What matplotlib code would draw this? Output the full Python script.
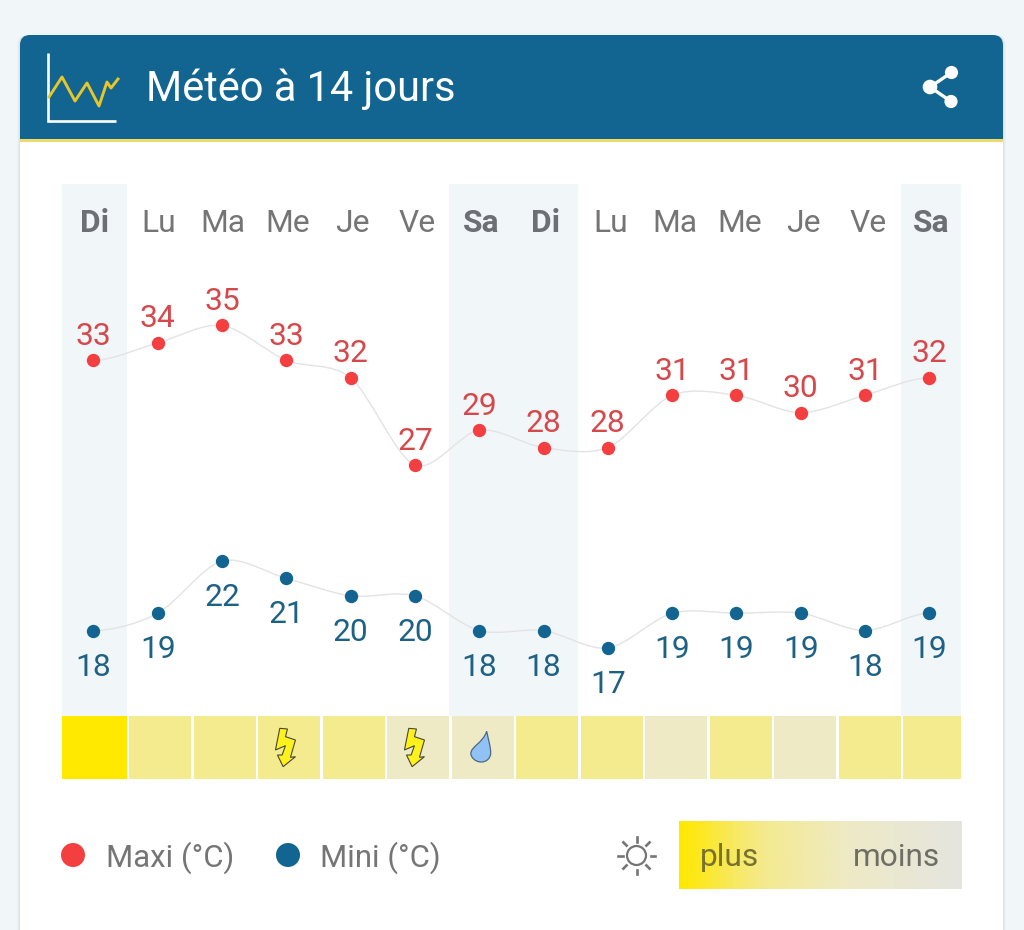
import matplotlib
matplotlib.use("Agg")
import matplotlib.pyplot as plt
import numpy as np
from matplotlib.colors import LinearSegmentedColormap
from matplotlib.patches import Circle, FancyBboxPatch, PathPatch, Polygon, Rectangle
from matplotlib.path import Path

plt.rcParams['font.family'] = ['Roboto', 'DejaVu Sans']

W, H = 1024, 930

days = ['Di', 'Lu', 'Ma', 'Me', 'Je', 'Ve', 'Sa', 'Di', 'Lu', 'Ma', 'Me', 'Je', 'Ve', 'Sa']
weekend = ['Di', 'Sa']
maxi = [33, 34, 35, 33, 32, 27, 29, 28, 28, 31, 31, 30, 31, 32]
mini = [18, 19, 22, 21, 20, 20, 18, 18, 17, 19, 19, 19, 18, 19]
sun_level = [3, 2, 2, 2, 2, 1, 1, 2, 2, 1, 2, 1, 2, 2]
icons = {3: 'bolt', 5: 'bolt', 6: 'drop'}

BLUE = '#126591'
RED = '#f43f40'
RED_TEXT = '#d5494c'
BLUE_TEXT = '#1d6285'
GREY = '#757575'
BAND = '#f1f6f9'
LABEL_SIZE = 22.9
sun_colors = {1: '#eeeac6', 2: '#f4ea8e', 3: '#ffe900'}


def px_axes(fig, left, top, right, bottom, zorder):
    ax = fig.add_axes([left / W, 1 - bottom / H, (right - left) / W, (bottom - top) / H], zorder=zorder)
    ax.axis('off')
    ax.patch.set_alpha(0)
    return ax


def spline_path(xs, ys, handle=0.3):
    # cubic through the points, tangent taken from the two neighbours
    n = len(xs)
    slopes = [0.0] * n
    for i in range(1, n - 1):
        slopes[i] = (ys[i + 1] - ys[i - 1]) / (xs[i + 1] - xs[i - 1])
    verts = [(xs[0], ys[0])]
    codes = [Path.MOVETO]
    for i in range(1, n):
        dx = (xs[i] - xs[i - 1]) * handle
        verts.append((xs[i - 1] + dx, ys[i - 1] + slopes[i - 1] * dx))
        verts.append((xs[i] - dx, ys[i] - slopes[i] * dx))
        verts.append((xs[i], ys[i]))
        codes += [Path.CURVE4] * 3
    return Path(verts, codes)


def plot_series(ax, values, color, text_color, label_offset, va):
    xs = list(range(len(values)))
    ax.add_patch(PathPatch(spline_path(xs, values), fc='none', ec='#e3e3e3', lw=1.0))
    ax.plot(xs, values, 'o', ms=9.6, mec='none', color=color, clip_on=False)
    for x, v in zip(xs, values):
        ax.annotate(str(v), (x, v), xytext=(0, label_offset * 0.72), textcoords='offset points',
                    ha='center', va=va, fontsize=LABEL_SIZE, color=text_color)


fig = plt.figure(figsize=(W / 100, H / 100), dpi=100, facecolor=BAND)

# page furniture, in pixels
bg = px_axes(fig, 0, 0, W, H, 0)
bg.set_xlim(0, W)
bg.set_ylim(H, 0)
for grow, alpha in [(3, 0.03), (2, 0.04), (1, 0.06)]:
    bg.add_patch(FancyBboxPatch((20 - grow, 35), 983 + 2 * grow, 950, boxstyle='round,pad=0,rounding_size=10',
                                fc='#606060', ec='none', alpha=alpha))
bg.add_patch(FancyBboxPatch((20, 35), 983, 950, boxstyle='round,pad=0,rounding_size=10', fc='white', ec='none'))
bg.add_patch(FancyBboxPatch((20, 35), 983, 60, boxstyle='round,pad=0,rounding_size=10', fc=BLUE, ec='none'))
bg.add_patch(Rectangle((20, 60), 983, 79, fc=BLUE, ec='none'))
bg.add_patch(Rectangle((20, 139), 983, 3, fc='#f2d968', ec='none'))
bg.text(146, 89.5, 'Météo à 14 jours', color='white', fontsize=29.9, va='center', ha='left')

# header chart icon
bg.plot([47.5, 47.5, 115.5], [53, 121, 121], color='white', lw=1.9, solid_joinstyle='miter', solid_capstyle='butt')
bg.plot([49, 62, 75, 87, 99, 107, 111, 118], [97, 77, 101, 83, 106, 82, 88, 79], color='#e6c62a', lw=2.1)

# share icon
bg.plot([951.5, 930, 951], [72.5, 87, 101.5], color='white', lw=2.4)
bg.add_patch(Circle((930, 87), 7.3, fc='white', ec='none'))
bg.add_patch(Circle((951.5, 72.5), 6.6, fc='white', ec='none'))
bg.add_patch(Circle((951, 101.5), 6.6, fc='white', ec='none'))

# weekend bands and day names, column grid is 64.5 px wide
GRID_LEFT, GRID_RIGHT, COL = 62, 961, 64.5
grid_end = (GRID_RIGHT - GRID_LEFT) / COL
bands = px_axes(fig, GRID_LEFT, 184, GRID_RIGHT, 716, 1)
bands.set_xlim(0, grid_end)
bands.set_ylim(716, 184)
for i, d in enumerate(days):
    if d in weekend:
        bands.axvspan(i, i + 1, color=BAND, lw=0)
    center = (i + min(i + 1, grid_end)) / 2
    bands.text(center, 223, d, ha='center', va='center', fontsize=LABEL_SIZE, color=GREY if d not in weekend else '#6c7075',
               fontweight='bold' if d in weekend else 'normal')

# sunshine strip
strip = px_axes(fig, GRID_LEFT, 716, GRID_RIGHT, 779, 1)
strip.set_xlim(0, grid_end)
strip.set_ylim(0, 1)
for i, level in enumerate(sun_level):
    left = i if i == 0 else i + 2.5 / COL
    strip.bar(left, 1, width=min(i + 1, grid_end) - left, align='edge', color=sun_colors[level], lw=0)

# temperatures, the two curves have their own vertical scale
x_lim = ((GRID_LEFT - 93.4) / 64.3, (GRID_RIGHT - 93.4) / 64.3)
ax_max = px_axes(fig, GRID_LEFT, 184, GRID_RIGHT, 716, 2)
ax_max.set_xlim(*x_lim)
ax_max.set_ylim(12.61, 43.11)
ax_min = px_axes(fig, GRID_LEFT, 184, GRID_RIGHT, 716, 3)
ax_min.set_xlim(*x_lim)
ax_min.set_ylim(13.09, 43.67)
plot_series(ax_max, maxi, RED, RED_TEXT, 9.5, 'bottom')
plot_series(ax_min, mini, BLUE, BLUE_TEXT, -22, 'top')

# weather icons on top of the strip
top = px_axes(fig, 0, 0, W, H, 4)
top.set_xlim(0, W)
top.set_ylim(H, 0)
bolt = np.array([[695, 85], [718, 87], [712, 110], [742, 120], [727, 172], [742, 170], [705, 200],
                 [688, 165], [702, 165], [712, 137], [682, 150]]) / 3.0 + [50 - 289.75, 700 - 747.5]
drop_verts = [(4.3, -16), (6, -8), (8.5, 0), (8.3, 6), (8, 11), (4, 14.5), (-1, 14.5), (-7, 14.5), (-11.5, 10),
              (-11.5, 6), (-11.5, -1), (0, -4), (4.3, -16)]
drop_codes = [Path.MOVETO] + [Path.CURVE4] * 12
for i, kind in icons.items():
    cx = GRID_LEFT + COL * i + 2.5 + 61.75 / 2 - 1
    if kind == 'bolt':
        top.add_patch(Polygon(bolt + [cx, 747.5], closed=True, fc='#fff21a', ec='#45453a', lw=0.8))
    else:
        verts = [(cx + 1 + vx, 747.5 + vy) for vx, vy in drop_verts]
        top.add_patch(PathPatch(Path(verts, drop_codes), fc='#90c2f5', ec='#4c6a80', lw=0.9))

# legend
top.add_patch(Circle((73, 855), 12, fc=RED, ec='none'))
top.add_patch(Circle((288, 855), 12, fc=BLUE, ec='none'))
top.text(106, 857.5, 'Maxi (°C)', fontsize=22.4, color=GREY, va='center')
top.text(320, 857.5, 'Mini (°C)', fontsize=22.4, color=GREY, va='center')

# sun icon
sun_x, sun_y = 636.5, 855.5
top.add_patch(Circle((sun_x, sun_y), 9.5, fc='none', ec=GREY, lw=1.6))
for a in np.arange(8) * np.pi / 4:
    top.plot([sun_x + 14 * np.cos(a), sun_x + 18.5 * np.cos(a)],
             [sun_y + 14 * np.sin(a), sun_y + 18.5 * np.sin(a)], color=GREY, lw=1.9)

# plus / moins gradient
cmap = LinearSegmentedColormap.from_list('sun', [(0, '#ffe900'), (0.08, '#fde824'), (0.19, '#f8e95f'), (0.31, '#f4ea90'),
                                                 (0.6, '#eeeac6'), (1, '#e5e5e0')])
top.imshow(np.linspace(0, 1, 256)[None, :], cmap=cmap, aspect='auto', extent=(678.5, 961, 889, 821), zorder=1)
top.set_xlim(0, W)
top.set_ylim(H, 0)
top.text(699.5, 857.5, 'plus', fontsize=22.8, color='#77722f', va='center', ha='left', zorder=2)
top.text(940, 857.5, 'moins', fontsize=22.8, color='#6f6e66', va='center', ha='right', zorder=2)

fig.savefig('out.png', dpi=100, facecolor=fig.get_facecolor())
